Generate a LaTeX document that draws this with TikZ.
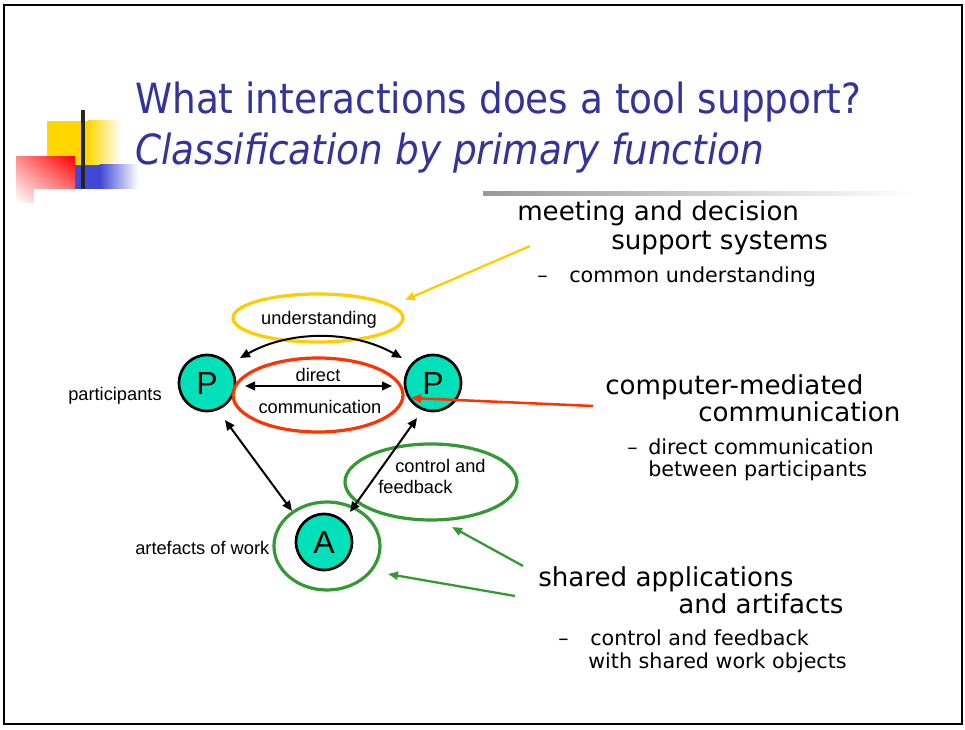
\documentclass[tikz,border=0pt]{standalone}
\usepackage{fontspec}
\setmainfont{Liberation Sans}
\newfontfamily\titlefont{DejaVu Sans Condensed}
\newfontfamily\bodyfont{DejaVu Sans}
\usetikzlibrary{arrows.meta,shapes.geometric,shadings}
\definecolor{titleblue}{RGB}{51,51,153}
\definecolor{pfill}{RGB}{0,225,185}
\definecolor{ugold}{RGB}{255,204,0}
\definecolor{cred}{RGB}{255,51,0}
\definecolor{sgreen}{RGB}{51,153,51}
\definecolor{decoyellow}{RGB}{255,214,0}
\definecolor{decoblue}{RGB}{64,72,214}
\tikzset{
  pnode/.style={circle, draw=black, line width=2pt, fill=pfill, minimum size=42pt,
                inner sep=0pt, font=\fontsize{24}{28}\selectfont},
  ring/.style={ellipse, line width=2.4pt, inner sep=0pt},
  lbl/.style={font=\fontsize{13.7}{16}\selectfont, inner sep=0pt},
  bigtxt/.style={anchor=base west, inner sep=0pt, font=\bodyfont\fontsize{19.6}{23}\selectfont},
  smalltxt/.style={anchor=base west, inner sep=0pt, font=\bodyfont\fontsize{15.5}{18}\selectfont},
  ttl/.style={anchor=base west, inner sep=0pt, text=titleblue, font=\titlefont\fontsize{31.2}{36}\selectfont},
  tip/.style={-{Triangle[length=7.5pt,width=6pt]}},
  dtip/.style={{Triangle[length=7.5pt,width=6.5pt]}-{Triangle[length=7.5pt,width=6.5pt]}},
}
\begin{document}
\begin{tikzpicture}[x=0.75pt,y=-0.75pt]
\useasboundingbox (0,0) rectangle (965,730);
\fill[white] (0,0) rectangle (965,730);
\draw[line width=1.5pt] (3.5,5.5) rectangle (961.5,724.5);

% corner decoration
\fill[decoyellow] (47,121) rectangle (88,165);
\shade[left color=decoyellow, right color=white] (87.5,121) rectangle (121,165);
\fill[decoblue] (75,165) rectangle (100,189);
\shade[left color=decoblue, right color=white] (99.5,165) rectangle (138,189);
\shade[upper left=red!45, upper right=red, lower left=white, lower right=red!40] (16,157) rectangle (75,203);
\fill[white] (34,189) rectangle (140,206);
\fill[black!85] (81,110) rectangle (85,189);

% title
\node[ttl] (t1) at (135,114) {What interactions does a tool support?};
\node[ttl] (t2) at (135,165) {\itshape Classification by primary function};
\shade[left color=black!40, right color=white] (483,192) rectangle (915,196);

% participants and artefact
\node[pnode] (pl) at (207,383) {P};
\node[pnode] (pr) at (433,383) {P};
\node[pnode] (a) at (324,542) {A};

\node[lbl, anchor=base west] (partlbl) at (68,401) {participants};
\node[lbl, anchor=base west] (artlbl) at (135,555) {artefacts of work};

% interaction rings
\node[ring, draw=ugold, minimum width=127.5pt, minimum height=36pt] (und) at (318,318) {};
\node[lbl] (utxt) at (319,320) {understanding};
\node[ring, draw=cred, minimum width=127.5pt, minimum height=55.5pt] (dcom) at (318,395) {};
\node[lbl] (dtxt) at (318,375) {direct};
\node[lbl] (ctxt) at (320,407) {communication};
\node[ring, draw=sgreen, minimum width=79.5pt, minimum height=66pt] (aring) at (327,546) {};
\node[ring, draw=sgreen, minimum width=129pt, minimum height=57pt] (cfring) at (431,482) {};
\node[lbl, anchor=base west] (cf1) at (395,473) {control and};
\node[lbl, anchor=base west] (cf2) at (378,494) {feedback};

% connectors between participants and artefact
\coordinate (uL) at (240,358);
\coordinate (uR) at (402,358);
\draw[dtip, line width=1.5pt] (uL) .. controls (290,330) and (352,330) .. (uR);
\coordinate (dL) at (245,386);
\coordinate (dR) at (392,386);
\draw[dtip, line width=1.5pt] (dL) -- (dR);
\coordinate (plA) at (225,420);
\coordinate (aPl) at (292,511);
\draw[dtip, line width=1.5pt] (plA) -- (aPl);
\coordinate (prA) at (417,418);
\coordinate (aPr) at (350,512);
\draw[dtip, line width=1.5pt] (prA) -- (aPr);

% classification texts
\node[bigtxt] (m1) at (517,221) {meeting and decision};
\node[bigtxt] (m2) at (611,250) {support systems};
\node[smalltxt] (m3d) at (537,283) {–};
\node[smalltxt] (m3) at (569,283) {common understanding};

\node[bigtxt] (c1) at (605,395) {computer-mediated};
\node[bigtxt] (c2) at (698,422) {communication};
\node[smalltxt] (c3d) at (627,455) {–};
\node[smalltxt] (c3) at (648,455) {direct communication};
\node[smalltxt] (c4) at (648,477) {between participants};

\node[bigtxt] (s1) at (538,587) {shared applications};
\node[bigtxt] (s2) at (678,614) {and artifacts};
\node[smalltxt] (s3d) at (558,646) {–};
\node[smalltxt] (s3) at (590,646) {control and feedback};
\node[smalltxt] (s4) at (588,669) {with shared work objects};

% pointers from texts to rings
\coordinate (ys) at (530,246);
\coordinate (ye) at (405,300);
\draw[tip, ugold, line width=1.7pt] (ys) -- (ye);
\coordinate (rs) at (593,406);
\coordinate (re) at (411,398);
\draw[tip, cred, line width=1.9pt] (rs) -- (re);
\coordinate (g1s) at (523,566);
\coordinate (g1e) at (452,527);
\draw[tip, sgreen, line width=1.7pt] (g1s) -- (g1e);
\coordinate (g2s) at (515,596);
\coordinate (g2e) at (388,574);
\draw[tip, sgreen, line width=1.7pt] (g2s) -- (g2e);
\end{tikzpicture}
\end{document}
